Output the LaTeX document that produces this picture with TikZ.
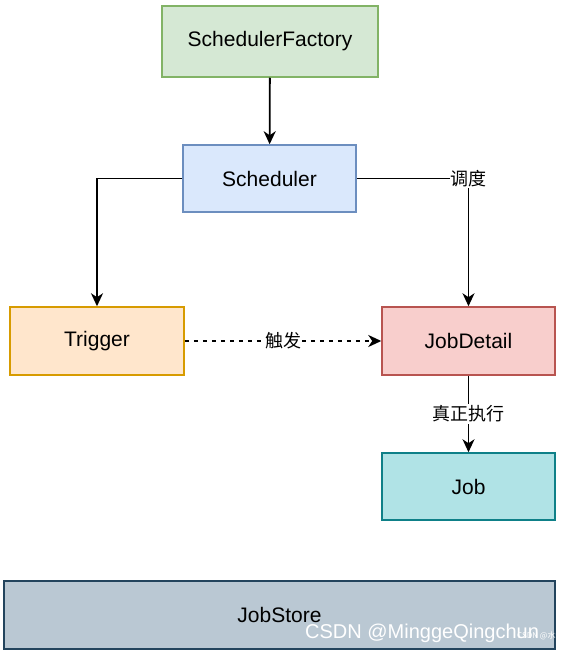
\documentclass[tikz,border=0pt]{standalone}
\usepackage{fontspec}
\setmainfont{Liberation Sans}
\newfontfamily\cjk{Noto Sans CJK SC}
\usetikzlibrary{arrows.meta}
\definecolor{gfill}{HTML}{D5E8D4}\definecolor{gline}{HTML}{82B366}
\definecolor{bfill}{HTML}{DAE8FC}\definecolor{bline}{HTML}{6C8EBF}
\definecolor{ofill}{HTML}{FFE6CC}\definecolor{oline}{HTML}{D79B00}
\definecolor{rfill}{HTML}{F8CECC}\definecolor{rline}{HTML}{B85450}
\definecolor{tfill}{HTML}{B0E3E6}\definecolor{tline}{HTML}{0E8088}
\definecolor{sfill}{HTML}{BAC8D3}\definecolor{sline}{HTML}{23445D}
\tikzset{
  box/.style={draw, line width=1.5pt, inner sep=0pt, font=\fontsize{21}{24}\selectfont},
  conn/.style={line width=1.8pt, -{Stealth[length=13pt,width=12pt,inset=4pt]}},
  elabel/.style={fill=white, inner sep=1pt, font=\cjk\fontsize{18}{21}\selectfont},
}
\begin{document}
\begin{tikzpicture}[x=1pt,y=-1pt]
\useasboundingbox (0,0) rectangle (561,650);
\node[box, fill=gfill, draw=gline, minimum width=216pt, minimum height=71pt] (sf) at (270,41.5) {SchedulerFactory};
\node[box, fill=bfill, draw=bline, minimum width=173pt, minimum height=67pt] (sch) at (269.5,178.5) {Scheduler};
\node[box, fill=ofill, draw=oline, minimum width=174pt, minimum height=68pt] (trg) at (97,341) {Trigger};
\node[box, fill=rfill, draw=rline, minimum width=173pt, minimum height=68pt] (jd) at (468.5,341) {JobDetail};
\node[box, fill=tfill, draw=tline, minimum width=173pt, minimum height=67pt] (job) at (468.5,486.5) {Job};
\node[box, fill=sfill, draw=sline, minimum width=551pt, minimum height=68pt] (js) at (279.5,615) {JobStore};
\draw[conn] (sf) -- (sch);
\draw[conn] (sch.west) -| (trg.north);
\draw[conn] (sch.east) -| node[elabel, pos=0.5] (l1) {调度} (jd.north);
\draw[conn, dashed, dash pattern=on 4.5pt off 4.5pt] (trg) -- node[elabel, inner sep=0pt] (l2) {触发} (jd);
\draw[conn] (jd) -- node[elabel, inner sep=2pt] (l3) {真正执行} (job);
\node[text=white, font=\fontsize{20}{22}\selectfont, anchor=base west, inner sep=0pt] (wm) at (305,638) {CSDN @MinggeQingchun};
\node[text=white, font=\cjk\fontsize{8}{9}\selectfont, anchor=base west, inner sep=0pt] (wm2) at (517,638) {CSDN @水w};
\end{tikzpicture}
\end{document}
